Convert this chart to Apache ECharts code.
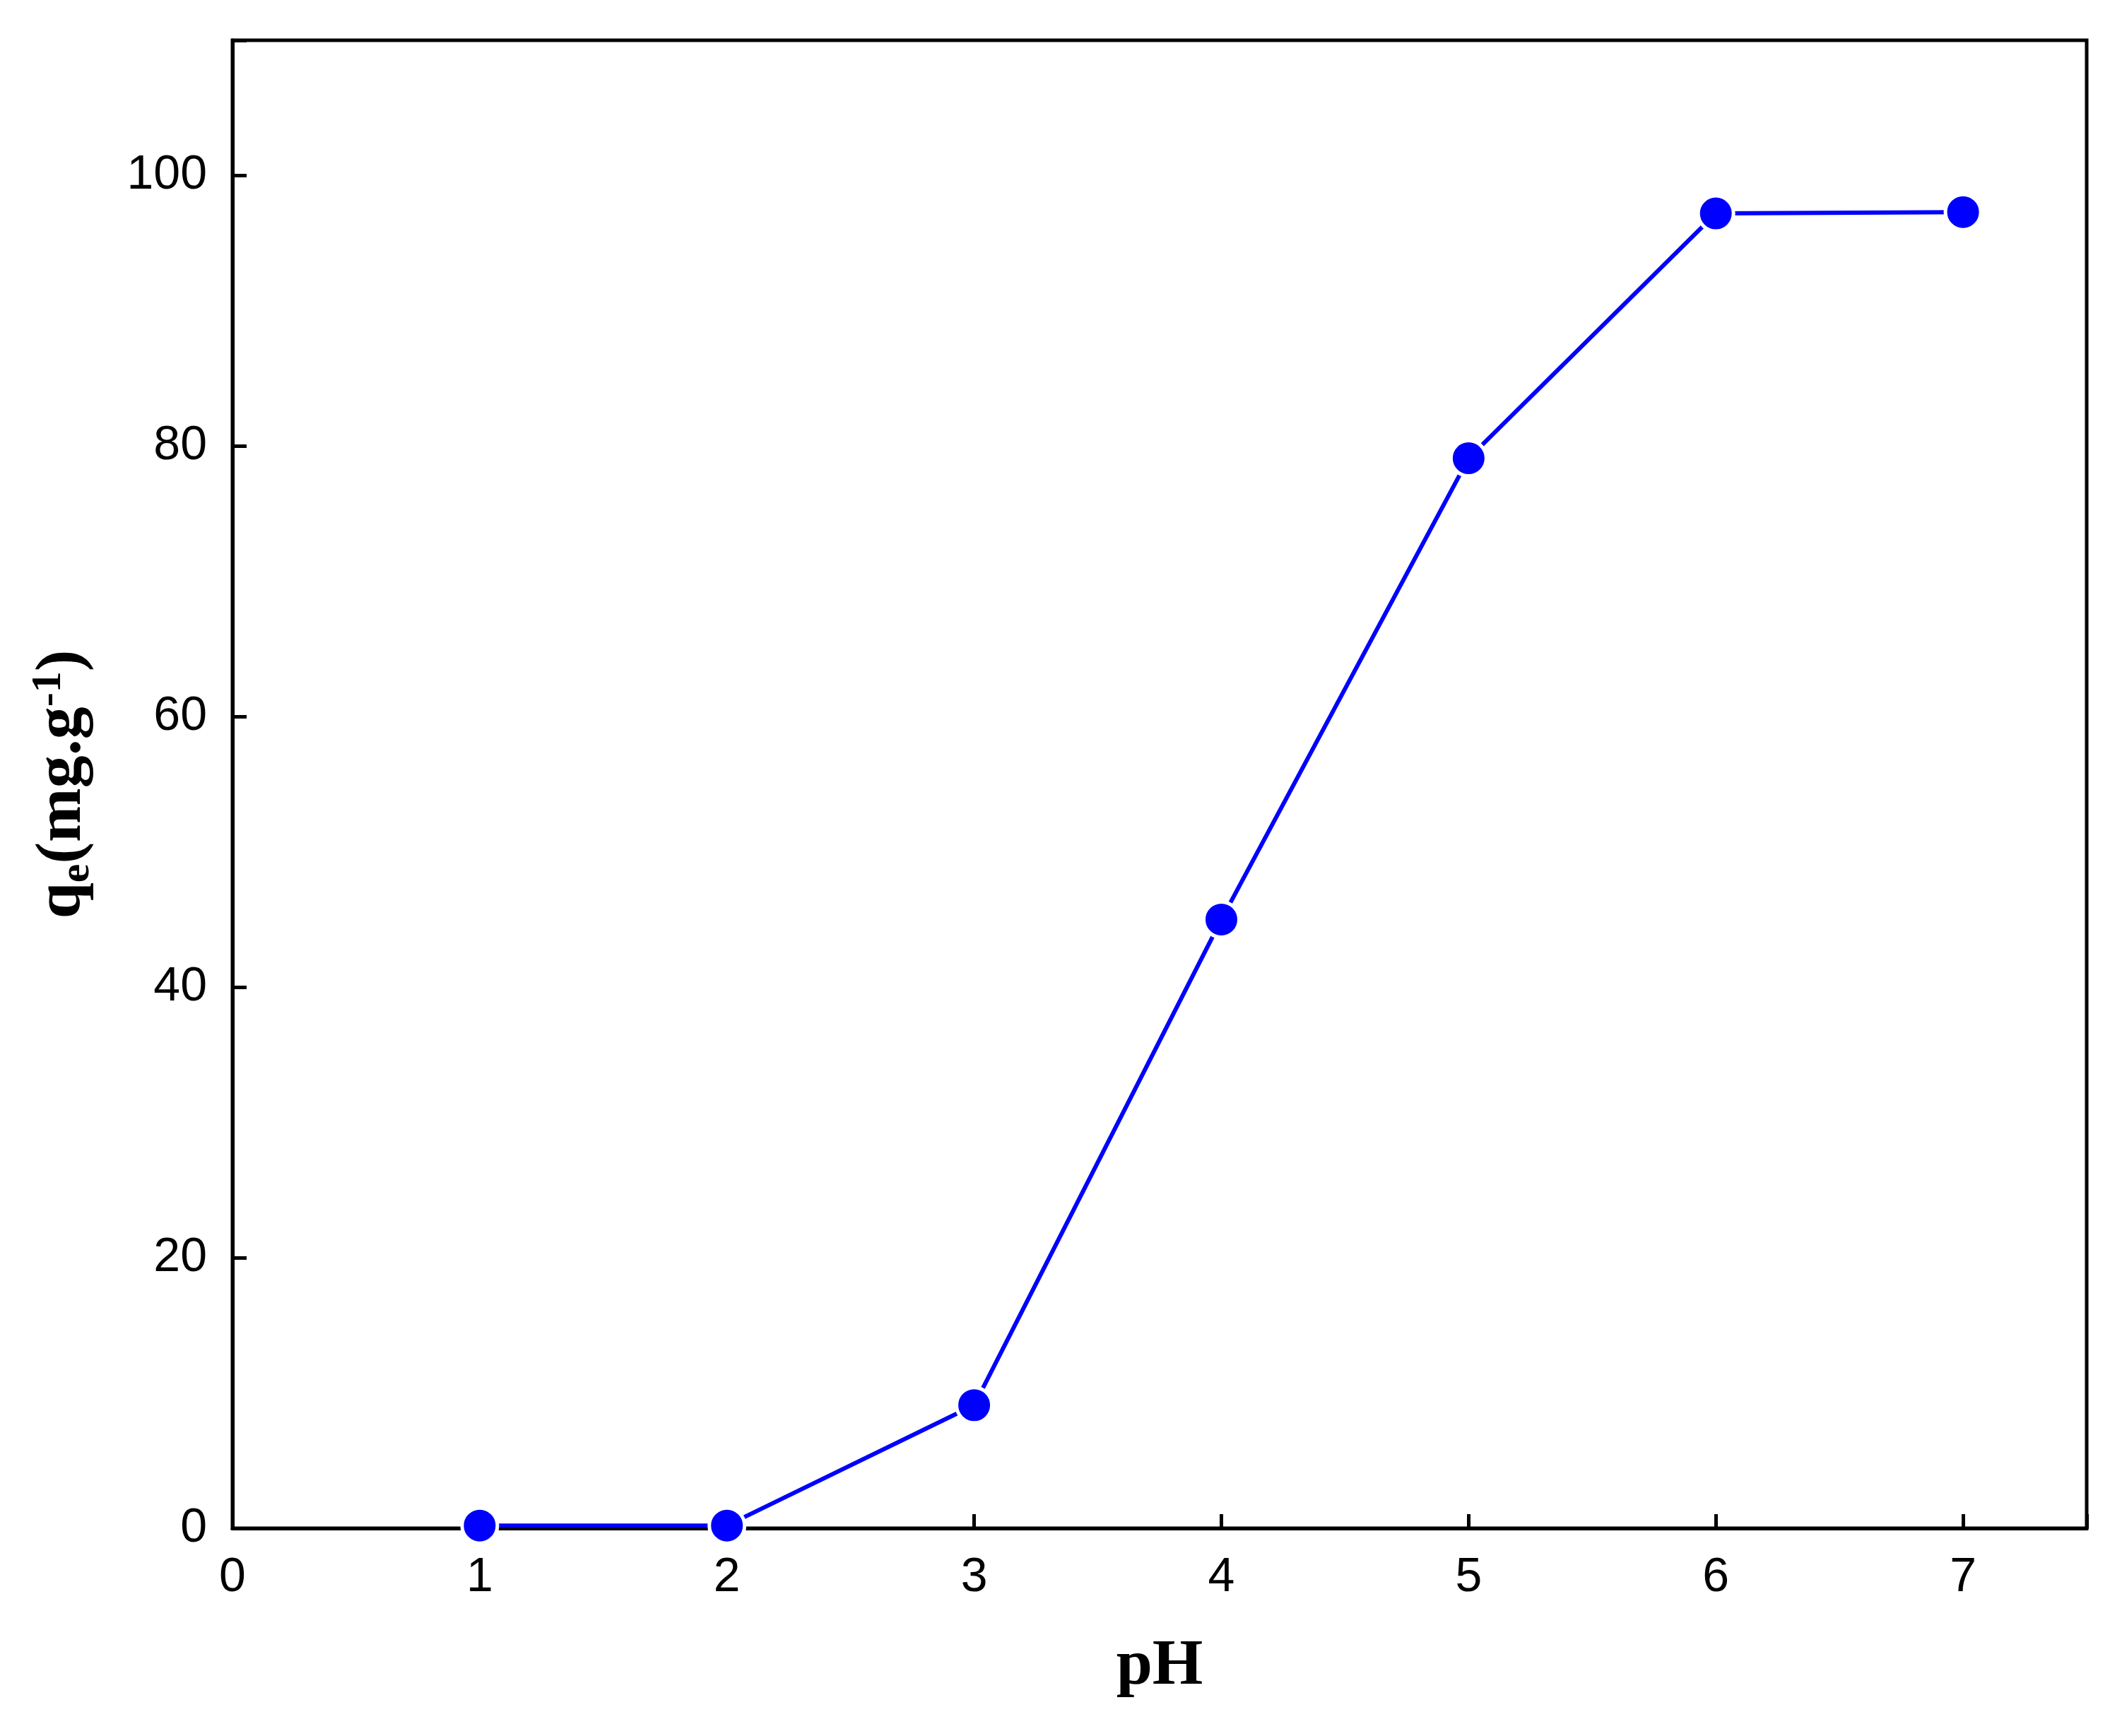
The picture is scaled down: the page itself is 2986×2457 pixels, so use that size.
<!DOCTYPE html>
<html>
<head>
<meta charset="utf-8">
<script src="https://cdn.jsdelivr.net/npm/echarts@6/dist/echarts.min.js"></script>
<style>html,body{margin:0;background:#fff}#main{width:2986px;height:2457px}</style>
</head>
<body>
<div id="main"></div>
<script>
// pH values and adsorption capacity
const phValues = [1, 2, 3, 4, 5, 6, 7];
const qeValues = [0.2, 0.2, 9.1, 45.0, 79.1, 97.2, 97.3];
const xTicks = [0, 1, 2, 3, 4, 5, 6, 7];
const yTicks = [0, 20, 40, 60, 80, 100];

const chart = echarts.init(document.getElementById('main'));
const axisText = { fontFamily: 'Liberation Sans', fontSize: 68, color: '#000' };
chart.setOption({
	animation: false,
	grid: { left: 329, right: 33, top: 57, bottom: 294, show: true, borderColor: '#000', borderWidth: 5, backgroundColor: 'transparent' },
	xAxis: {
		type: 'value', min: 0, max: 7.5, interval: 1,
		name: 'pH', nameLocation: 'middle', nameGap: 150,
		nameTextStyle: { fontFamily: 'Liberation Serif', fontWeight: 'bold', fontSize: 92, color: '#000' },
		axisLine: { lineStyle: { color: '#000', width: 5 } },
		axisTick: { inside: true, length: 20, lineStyle: { width: 5, color: '#000' } },
		axisLabel: Object.assign({ margin: 36, formatter: v => xTicks.includes(v) ? String(v) : '' }, axisText),
		splitLine: { show: false }
	},
	yAxis: {
		type: 'value', min: 0, max: 110, interval: 20,
		name: '{b|q}{sub|e}{b|(mg.g}{sup|-1}{b|)}', nameLocation: 'middle', nameGap: 190,
		nameTextStyle: {
			rich: {
				b: { fontFamily: 'Liberation Serif', fontWeight: 'bold', fontSize: 92, color: '#000' },
				sub: { fontFamily: 'Liberation Serif', fontWeight: 'bold', fontSize: 60, color: '#000', verticalAlign: 'bottom', padding: [40, 0, 0, 0] },
				sup: { fontFamily: 'Liberation Serif', fontWeight: 'bold', fontSize: 60, color: '#000', verticalAlign: 'top', padding: [0, 0, 40, 0] }
			}
		},
		axisLine: { show: true, lineStyle: { color: '#000', width: 5 } },
		axisTick: { inside: true, length: 20, lineStyle: { width: 5, color: '#000' } },
		axisLabel: Object.assign({ margin: 36, formatter: v => yTicks.includes(v) ? String(v) : '' }, axisText),
		splitLine: { show: false }
	},
	series: [{
		type: 'line',
		data: phValues.map((p, i) => [p, qeValues[i]]),
		symbol: 'circle', symbolSize: 50,
		lineStyle: { color: '#0000ff', width: 6 },
		itemStyle: { color: '#0000ff', borderColor: '#fff', borderWidth: 5 }
	}]
});
</script>
</body>
</html>
